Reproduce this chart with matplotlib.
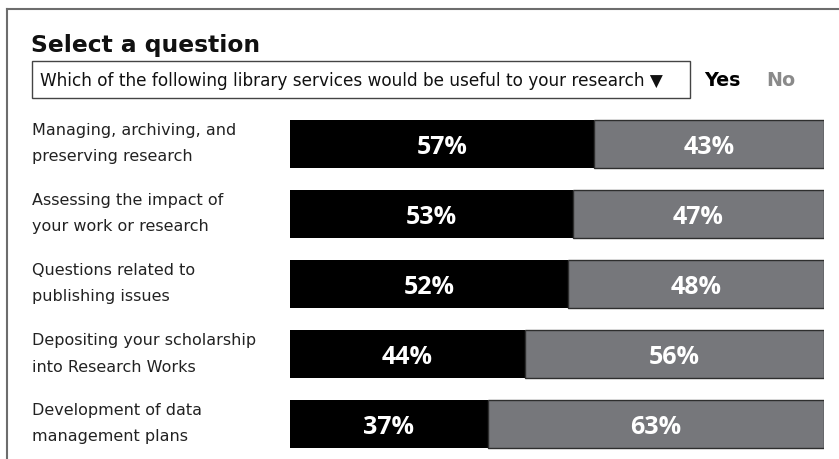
import matplotlib
matplotlib.use('Agg')
import matplotlib.pyplot as plt
from matplotlib.patches import Rectangle
from matplotlib.lines import Line2D
import matplotlib.transforms as mtransforms

# ---- data ----
categories = [
    "Managing, archiving, and\npreserving research",
    "Assessing the impact of\nyour work or research",
    "Questions related to\npublishing issues",
    "Depositing your scholarship\ninto Research Works",
    "Development of data\nmanagement plans",
]
yes_pct = [57, 53, 52, 44, 37]
no_pct = [43, 47, 48, 56, 63]
title = "Select a question"
question = "Which of the following library services would be useful to your research \u25BC"
legend_labels = ["Yes", "No"]

# ---- layout helpers ----
W, H = 839, 459
fig = plt.figure(figsize=(W / 100, H / 100), dpi=100)
fig.patch.set_facecolor('white')

def fx(px):
    return px / W

def fy(py):
    return 1 - py / H

BLACK = '#000000'
GREY = '#76777b'

ax = fig.add_axes([fx(290), 0, fx(824) - fx(290), (H - 109) / H])
ax.set_xlim(0, 100)
ax.set_ylim(len(categories) - 0.5, -0.5)
ax.axis('off')

ypos = list(range(len(categories)))
bh = 48 / 70
ax.barh(ypos, yes_pct, height=bh, color=BLACK, edgecolor='none')
ax.barh(ypos, no_pct, left=yes_pct, height=bh, color=GREY,
        edgecolor='#2e2e2e', linewidth=1.0)

pct_font = dict(family=['Open Sans', 'DejaVu Sans'], weight='bold',
                fontsize=18, color='white')
for i, (y, n) in enumerate(zip(yes_pct, no_pct)):
    ax.text(y / 2, i + 10 / 70, f"{y}%", ha='center', va='baseline', **pct_font)
    ax.text(y + n / 2, i + 10 / 70, f"{n}%", ha='center', va='baseline', **pct_font)

# category labels (figure x, data y)
trans = mtransforms.blended_transform_factory(fig.transFigure, ax.transData)
for i, lab in enumerate(categories):
    lines = lab.split('\n')
    offs = [-9 / 70, 17.5 / 70]
    for ln, off in zip(lines, offs):
        ax.text(fx(32), i + off, ln, transform=trans, ha='left', va='baseline',
                fontsize=11.5, color='#222222', family='DejaVu Sans',
                clip_on=False)

# outer frame (top and left)
fig.add_artist(Line2D([fx(7), fx(7)], [fy(9), 0], color='#6d6d6d', lw=1.5,
                      transform=fig.transFigure))
fig.add_artist(Line2D([fx(7), 1], [fy(9), fy(9)], color='#6d6d6d', lw=1.5,
                      transform=fig.transFigure))

# title
fig.text(fx(31), fy(52), title, fontsize=16.8, weight='bold', va='baseline',
         family='DejaVu Sans', color='#111111')

# dropdown box
fig.add_artist(Rectangle((fx(32), fy(98)), fx(690) - fx(32), (98 - 61) / H,
                         transform=fig.transFigure, facecolor='white',
                         edgecolor='#444444', lw=1.0))
fig.text(fx(40), fy(86), question, fontsize=12.2, va='baseline',
         family='DejaVu Sans', color='#111111')

# Yes / No legend
fig.text(fx(704), fy(86), legend_labels[0], fontsize=13.7, weight='bold',
         va='baseline', family='DejaVu Sans', color='#000000')
fig.text(fx(781), fy(86), legend_labels[1], fontsize=13.7, weight='bold',
         va='baseline', ha='center', family='DejaVu Sans', color='#8a8a8a')

fig.savefig('out.png', dpi=100)
